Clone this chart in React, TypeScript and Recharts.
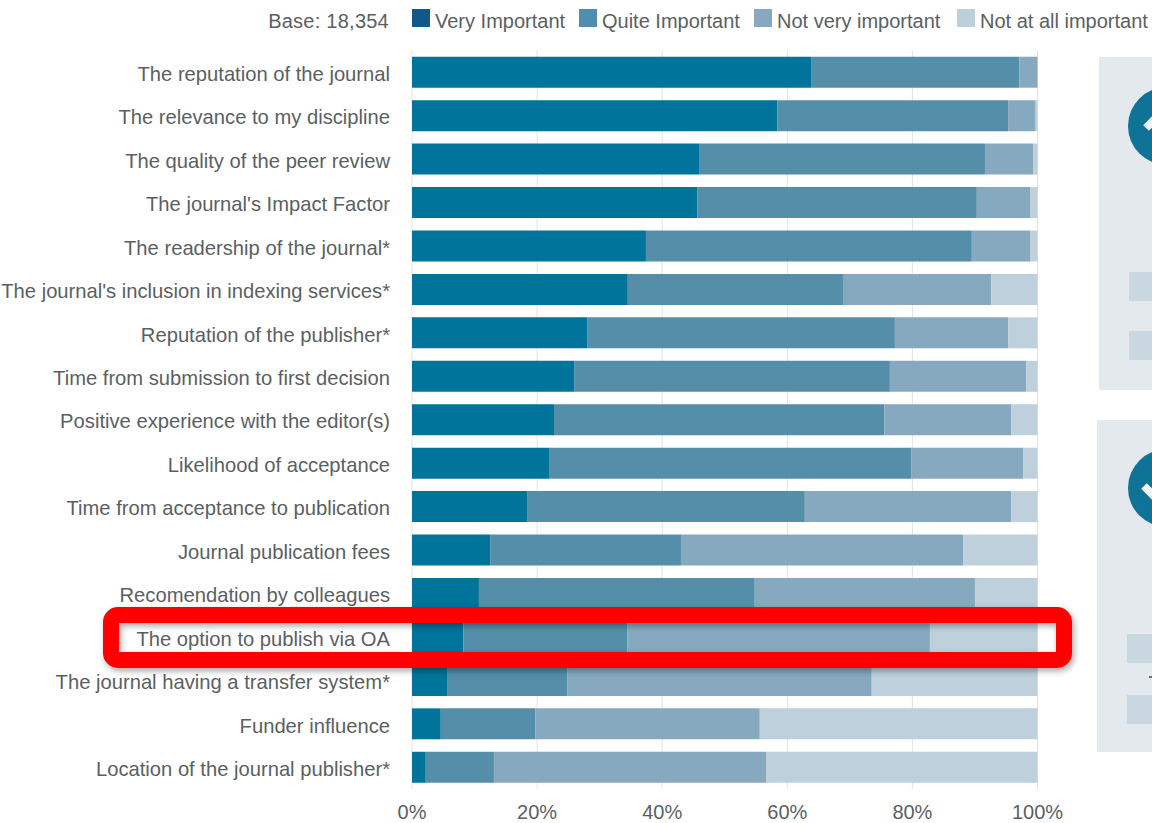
import React from "react";
import { BarChart, Bar, XAxis, YAxis, CartesianGrid, Legend } from "recharts";

const categories = [
  "The reputation of the journal",
  "The relevance to my discipline",
  "The quality of the peer review",
  "The journal's Impact Factor",
  "The readership of the journal*",
  "The journal's inclusion in indexing services*",
  "Reputation of the publisher*",
  "Time from submission to first decision",
  "Positive experience with the editor(s)",
  "Likelihood of acceptance",
  "Time from acceptance to publication",
  "Journal publication fees",
  "Recomendation by colleagues",
  "The option to publish via OA",
  "The journal having a transfer system*",
  "Funder influence",
  "Location of the journal publisher*",
];
const veryImportant = [63.8, 58.4, 46.0, 45.6, 37.4, 34.5, 28.0, 26.0, 22.7, 21.9, 18.4, 12.5, 10.7, 8.2, 5.6, 4.6, 2.2];
const quiteImportant = [33.3, 36.9, 45.6, 44.7, 52.1, 34.4, 49.2, 50.4, 52.8, 57.9, 44.4, 30.5, 44.1, 26.2, 19.2, 15.1, 10.9];
const notVeryImportant = [2.9, 4.4, 7.7, 8.5, 9.3, 23.7, 18.1, 21.8, 20.3, 17.9, 33.0, 45.1, 35.2, 48.4, 48.7, 35.9, 43.5];
const notAtAllImportant = [0, 0.3, 0.7, 1.2, 1.2, 7.4, 4.7, 1.8, 4.2, 2.3, 4.2, 11.9, 10.0, 17.2, 26.5, 44.4, 43.4];
const xTicks = [0, 20, 40, 60, 80, 100];
const baseLabel = "Base: 18,354";

const seriesNames = ["Very Important", "Quite Important", "Not very important", "Not at all important"];
const barColors = ["#00749b", "#548ea9", "#87a9c0", "#bdd0db"];
const legendColors = ["#10598b", "#4f8eae", "#86a9c0", "#bccfda"];
const legendX = [412, 579, 754, 957];

const FONT = "'Liberation Sans', Arial, sans-serif";
const TEXT = "#5a5f63";

const rows = categories.map((name, i) => ({
  name,
  v1: veryImportant[i],
  v2: quiteImportant[i],
  v3: notVeryImportant[i],
  v4: notAtAllImportant[i],
}));
const keys = ["v1", "v2", "v3", "v4"];

function TopLegend() {
  return (
    <div style={{ position: "relative", width: 1152, height: 40, fontFamily: FONT, fontSize: 20, color: TEXT }}>
      <div style={{ position: "absolute", right: 1152 - 389, top: 10, whiteSpace: "nowrap", letterSpacing: 0.25 }}>{baseLabel}</div>
      {seriesNames.map((n, i) => (
        <div key={n} style={{ position: "absolute", left: legendX[i], top: 9, whiteSpace: "nowrap", display: "flex" }}>
          <span style={{ width: 18, height: 18, marginTop: 0, marginRight: 5, background: legendColors[i], display: "block" }} />
          <span style={{ marginTop: 1 }}>{n}</span>
        </div>
      ))}
    </div>
  );
}

function Panel({ x, y, h, cx, cy, mark, bars }: { x: number; y: number; h: number; cx: number; cy: number; mark: string; bars: number[] }) {
  return (
    <>
      <div style={{ position: "absolute", left: x, top: y, width: 1152 - x, height: h, background: "#e3e9ed" }} />
      <svg style={{ position: "absolute", left: 0, top: 0 }} width={1152} height={823}>
        <circle cx={cx} cy={cy} r={39} fill="#0e7396" />
        <polyline points={mark} fill="none" stroke="#f2f5f7" strokeWidth={8} />
      </svg>
      {bars.map((b) => (
        <div key={b} style={{ position: "absolute", left: x + 30, top: b, width: 1152 - x - 30, height: 29, background: "#c9d7e0" }} />
      ))}
    </>
  );
}

const redFrame =
  "M118 607 H1057 A15 15 0 0 1 1072 622 V653 A15 15 0 0 1 1057 668 H118 A15 15 0 0 1 103 653 V622 A15 15 0 0 1 118 607 Z M119 623 V652 H1056 V623 Z";

export default function App() {
  return (
    <div style={{ position: "absolute", left: 0, top: 0, width: 1152, height: 823, overflow: "hidden", background: "#fff" }}>
      <BarChart
        width={1152}
        height={823}
        data={rows}
        layout="vertical"
        barCategoryGap="14.3%"
        margin={{ top: 10.5, right: 114.5, bottom: 0, left: 12 }}
      >
        <CartesianGrid horizontal={false} stroke="#dfe3e6" strokeWidth={1} />
        <XAxis
          type="number"
          domain={[0, 100]}
          ticks={xTicks}
          tickFormatter={(v: number) => `${v}%`}
          height={34}
          axisLine={false}
          tickLine={false}
          tickMargin={10}
          tick={{ fontFamily: FONT, fontSize: 20, fill: TEXT }}
        />
        <YAxis
          type="category"
          dataKey="name"
          width={400}
          interval={0}
          axisLine={false}
          tickLine={false}
          tickMargin={16}
          tick={{ fontFamily: FONT, fontSize: 20.2, fill: TEXT, dy: 1.5 }}
        />
        <Legend
          verticalAlign="top"
          content={() => <TopLegend />}
          wrapperStyle={{ position: "absolute", left: 0, top: 0, width: 1152 }}
        />
        {keys.map((k, i) => (
          <Bar key={k} dataKey={k} name={seriesNames[i]} stackId="a" fill={barColors[i]} isAnimationActive={false} />
        ))}
      </BarChart>
      <Panel x={1099} y={57} h={333} cx={1167} cy={126} mark="1146,128 1162,112" bars={[272, 331]} />
      <Panel x={1097} y={420} h={332} cx={1167} cy={488} mark="1144,486 1158,500 1182,474" bars={[634, 695]} />
      <div style={{ position: "absolute", left: 1149, top: 676, width: 3, height: 2, background: "#6a6f73" }} />
      <svg style={{ position: "absolute", left: 0, top: 0, filter: "drop-shadow(2px 3px 3px rgba(0,0,0,0.35))" }} width={1152} height={823}>
        <path d={redFrame} fill="#fe0000" fillRule="evenodd" />
      </svg>
    </div>
  );
}
